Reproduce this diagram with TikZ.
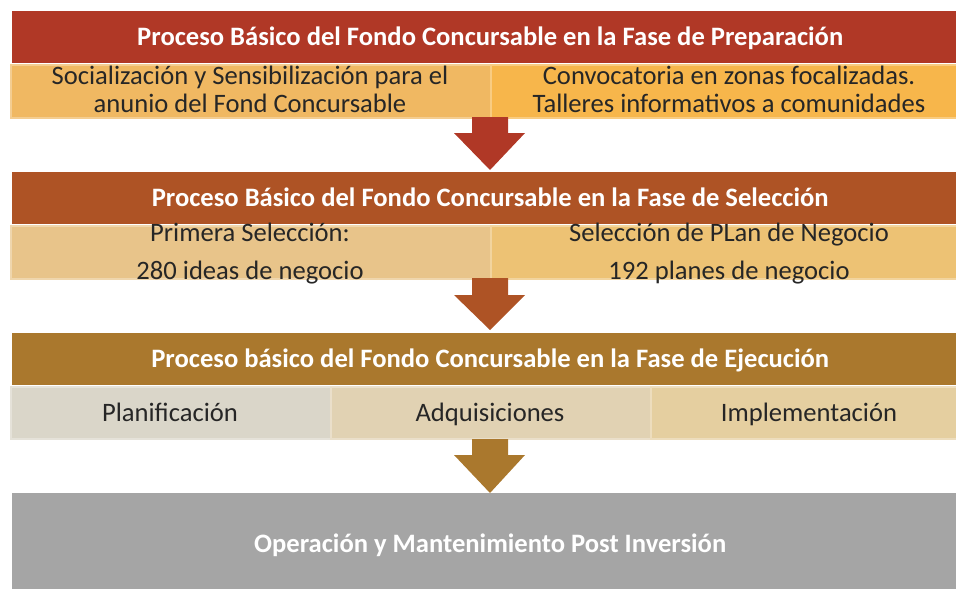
\documentclass[tikz,border=0pt]{standalone}
\usepackage{fontspec}
\setmainfont{Carlito}
\definecolor{hA}{HTML}{B03826}
\definecolor{hB}{HTML}{AE5325}
\definecolor{hC}{HTML}{AA782D}
\definecolor{sAl}{HTML}{F0B862}
\definecolor{sAr}{HTML}{F7B64B}
\definecolor{sBl}{HTML}{E8C48A}
\definecolor{sBr}{HTML}{EDC274}
\definecolor{sCa}{HTML}{DAD6C9}
\definecolor{sCb}{HTML}{E1D2B3}
\definecolor{sCc}{HTML}{E5CFA0}
\definecolor{gbox}{HTML}{A5A5A5}
\definecolor{dtxt}{HTML}{262626}
\tikzset{
  hdr/.style={fill=#1, draw=none, anchor=north west, minimum width=944pt, minimum height=52pt,
    inner sep=0pt, text=white, font=\fontsize{26.6}{28}\selectfont\bfseries, align=center,
    text height=20pt, text depth=3pt},
  sub/.style={fill=#1, draw=#1!70!white, line width=1.5pt, anchor=north west, minimum height=53pt,
    inner sep=0pt, text=dtxt, font=\fontsize{26.6}{28}\selectfont, align=center},
  one/.style={text=dtxt, font=\fontsize{26.6}{28}\selectfont, inner sep=0pt, text height=20pt, text depth=3pt},
}
\begin{document}
\begin{tikzpicture}[x=1pt,y=-1pt]
\useasboundingbox (0,0) rectangle (956,589);
% Phase 1
\node[hdr=hA] (h1) at (12,11) {\hspace*{12pt}Proceso Básico del Fondo Concursable en la Fase de Preparación};
\node[sub=sAl, minimum width=480pt] (s1l) at (10,64) {};
\node[sub=sAr, minimum width=466pt] (s1r) at (490,64) {};
\node[one] (t1a) at (250,76) {Socialización y Sensibilización para el};
\node[one] (t1b) at (250,104) {anunio del Fond Concursable};
\node[one] (t1c) at (729,76) {Convocatoria en zonas focalizadas.};
\node[one] (t1d) at (729,104) {Talleres informativos a comunidades};
% Arrow 1
\fill[hA] (472,117) -- (508,117) -- (508,133) -- (525,133) -- (490,170) -- (454,133) -- (472,133) -- cycle;
% Phase 2
\node[hdr=hB] (h2) at (12,172) {\hspace*{12pt}Proceso Básico del Fondo Concursable en la Fase de Selección};
\node[sub=sBl, minimum width=480pt] (s2l) at (10,225) {};
\node[sub=sBr, minimum width=466pt] (s2r) at (490,225) {};
\node[one] (t2a) at (250,233) {Primera Selección:};
\node[one] (t2b) at (250,271) {280 ideas de negocio};
\node[one] (t2c) at (729,233) {Selección de PLan de Negocio};
\node[one] (t2d) at (729,271) {192 planes de negocio};
% Arrow 2
\fill[hB] (472,278) -- (508,278) -- (508,295) -- (525,295) -- (490,330) -- (454,295) -- (472,295) -- cycle;
% Phase 3
\node[hdr=hC] (h3) at (12,333) {\hspace*{12pt}Proceso básico del Fondo Concursable en la Fase de Ejecución};
\node[sub=sCa, minimum width=320pt, minimum height=52pt] (s3a) at (10,386) {};
\node[sub=sCb, minimum width=320pt, minimum height=52pt] (s3b) at (330,386) {};
\node[sub=sCc, minimum width=306pt, minimum height=52pt] (s3c) at (650,386) {};
\node[one] (t3a) at (170,413) {Planificación};
\node[one] (t3b) at (490,413) {Adquisiciones};
\node[one] (t3c) at (809,413) {Implementación};
% Arrow 3
\fill[hC] (472,439) -- (508,439) -- (508,455) -- (525,455) -- (490,493) -- (454,455) -- (472,455) -- cycle;
% Final
\node[fill=gbox, anchor=north west, minimum width=944pt, minimum height=96pt, inner sep=0pt,
  text=white, font=\fontsize{26.6}{28}\selectfont\bfseries, text height=22pt, text depth=0pt] (h4) at (12,493) {\hspace*{12pt}Operación y Mantenimiento Post Inversión};
\end{tikzpicture}
\end{document}
